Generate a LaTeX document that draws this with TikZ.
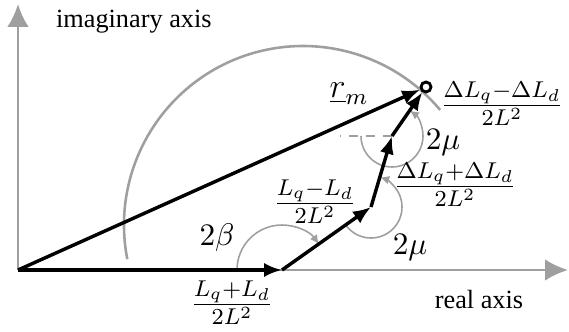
\documentclass[tikz,border=0pt]{standalone}
\usepackage[no-math]{fontspec}
\setmainfont{Liberation Serif}
\usetikzlibrary{arrows.meta}
\tikzset{
  vec/.style={line width=1.2pt,-{Latex[length=6.3pt,width=5pt]}},
  axis/.style={gray!75,line width=0.9pt,-{Latex[length=8pt,width=7.5pt]}},
  angarc/.style={gray!75,line width=0.55pt,-{Latex[length=3.2pt,width=3pt]}},
  lbl/.style={font=\fontsize{11.5}{13}\selectfont},
  anglbl/.style={font=\fontsize{11}{13}\selectfont},
  axlbl/.style={font=\fontsize{9.2}{11}\selectfont}
}
\begin{document}
\begin{tikzpicture}[x=0.35pt,y=0.35pt]
  \useasboundingbox (0,0) rectangle (569,331);
  \coordinate (O) at (18,61);
  \coordinate (xend) at (568,61);
  \coordinate (yend) at (18,327);
  \coordinate (A) at (282,61);
  \coordinate (B) at (371,124);
  \coordinate (C) at (392,195);
  \coordinate (Cl) at (340,195);
  \coordinate (M) at (303,106);
  \draw[axis] (O) -- (xend);
  \draw[axis] (O) -- (yend);
  \draw[gray!75,line width=0.9pt] (M) ++(191:179) arc[start angle=191,end angle=40,radius=179];
  \draw[gray!75,line width=0.9pt,dashed] (C) -- (Cl);
  \node[draw,circle,fill=white,line width=1pt,inner sep=0pt,minimum size=3.5pt] (D) at (426,244) {};
  \draw[angarc] (A) ++(180:45) arc[start angle=180,end angle=35,radius=45];
  \draw[angarc] (B) ++(215:31) arc[start angle=215,end angle=433,radius=31];
  \draw[angarc] (C) ++(180:31) arc[start angle=180,end angle=415,radius=31];
  \draw[vec] (O) -- (A);
  \draw[vec] (A) -- (B);
  \draw[vec] (B) -- (C);
  \draw[vec] (C) -- (D);
  \draw[vec] (O) -- (D);
  \node[axlbl,anchor=west] (im) at (46,309) {imaginary axis};
  \node[axlbl] (re) at (479,31) {real axis};
  \node[lbl] (fA) at (232,28) {$\frac{L_q+L_d}{2L^2}$};
  \node[lbl] (fB) at (315,129) {$\frac{L_q-L_d}{2L^2}$};
  \node[lbl] (fC) at (455,146) {$\frac{\Delta L_q+\Delta L_d}{2L^2}$};
  \node[lbl] (fD) at (502,227) {$\frac{\Delta L_q-\Delta L_d}{2L^2}$};
  \node[lbl] (rm) at (349,237) {$\underline{r}_m$};
  \node[anglbl] (beta) at (217,93) {$2\beta$};
  \node[anglbl] (mu1) at (410,84) {$2\mu$};
  \node[anglbl] (mu2) at (443,189) {$2\mu$};
\end{tikzpicture}
\end{document}
